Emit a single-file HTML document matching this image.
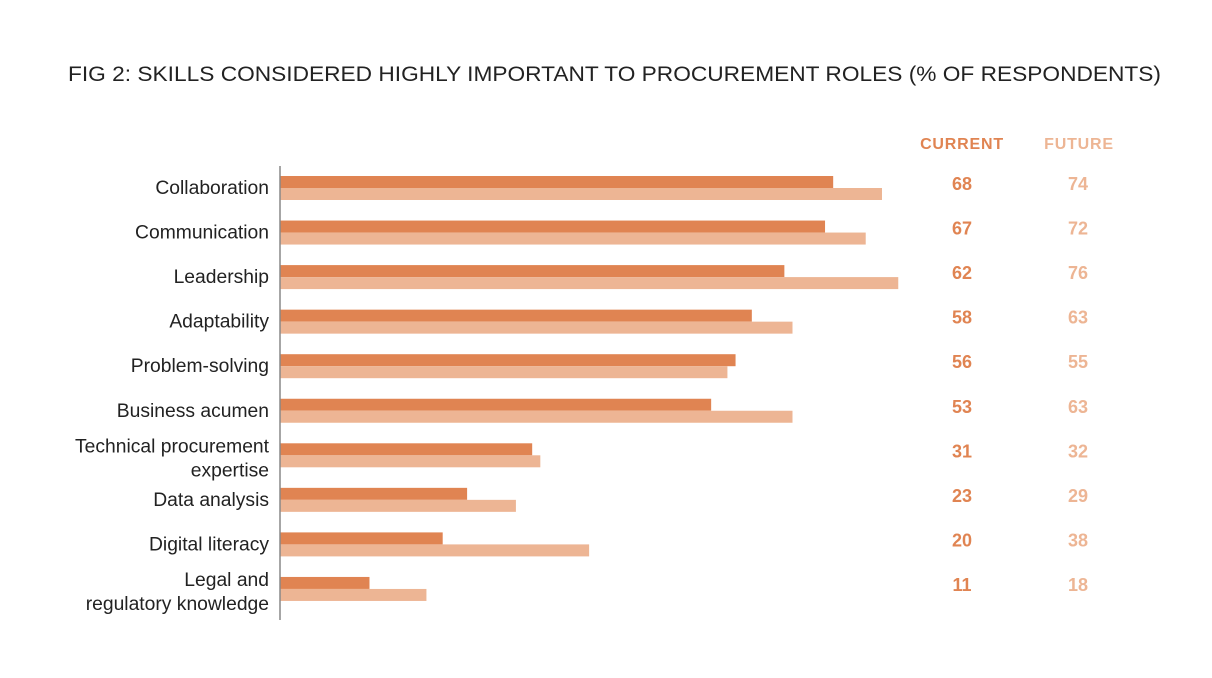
<!DOCTYPE html>
<html><head><meta charset="utf-8"><style>
html,body{margin:0;padding:0;background:#fff;}
svg{display:block;font-family:"Liberation Sans",sans-serif;}
</style></head><body>
<svg id="chart" width="1212" height="678" viewBox="0 0 1212 678">
<text x="68" y="81" font-size="21.5" fill="#222" textLength="1093" lengthAdjust="spacingAndGlyphs">FIG 2: SKILLS CONSIDERED HIGHLY IMPORTANT TO PROCUREMENT ROLES (% OF RESPONDENTS)</text>
<text x="962" y="149" text-anchor="middle" font-size="16" font-weight="bold" fill="#E08452" letter-spacing="0.8">CURRENT</text>
<text x="1079" y="149" text-anchor="middle" font-size="16" font-weight="bold" fill="#EDB594" letter-spacing="0.8">FUTURE</text>
<g id="bars"></g>
<line x1="280" y1="166" x2="280" y2="620" stroke="#888" stroke-width="1.5"/>
</svg>
<script>
const categories = [["Collaboration"],["Communication"],["Leadership"],["Adaptability"],["Problem-solving"],["Business acumen"],["Technical procurement","expertise"],["Data analysis"],["Digital literacy"],["Legal and","regulatory knowledge"]];
const currentValues = [68,67,62,58,56,53,31,23,20,11];
const futureValues = [74,72,76,63,55,63,32,29,38,18];
const NS = "http://www.w3.org/2000/svg";
const g = document.getElementById('bars');
const x0 = 280, scale = 8.135, y0 = 188, step = 44.55;
function xPos(v){ return x0 + v*scale; }
function yRow(i){ return y0 + i*step; }
function mk(tag, attrs){ const e=document.createElementNS(NS,tag); for(const k in attrs) e.setAttribute(k,attrs[k]); g.appendChild(e); return e; }
categories.forEach((lab,i)=>{
  const cy = yRow(i);
  const r1 = mk('rect',{x:x0,y:cy-12,width:xPos(currentValues[i])-x0,height:12,fill:'#E08452'});
  
  
  const r2 = mk('rect',{x:x0,y:cy,width:xPos(futureValues[i])-x0,height:12,fill:'#EDB594'});
  
  
  const t = mk('text',{x:269,'text-anchor':'end','font-size':19.3,fill:'#222'});
  
  
  if(lab.length===1){ t.setAttribute('y',cy+6); t.textContent=lab[0]; }
  else { lab.forEach((s,j)=>{ const ts=document.createElementNS(NS,'tspan'); ts.setAttribute('x',269); ts.setAttribute('y',cy-3+j*24); ts.textContent=s; t.appendChild(ts); }); }
  const v1 = mk('text',{x:962,y:cy+2,'text-anchor':'middle','font-size':18,'font-weight':'bold',fill:'#E08452'});
  
  
  v1.textContent=currentValues[i];
  const v2 = mk('text',{x:1078,y:cy+2,'text-anchor':'middle','font-size':18,'font-weight':'bold',fill:'#EDB594'});
  
  
  v2.textContent=futureValues[i];
});
</script>
</body></html>
